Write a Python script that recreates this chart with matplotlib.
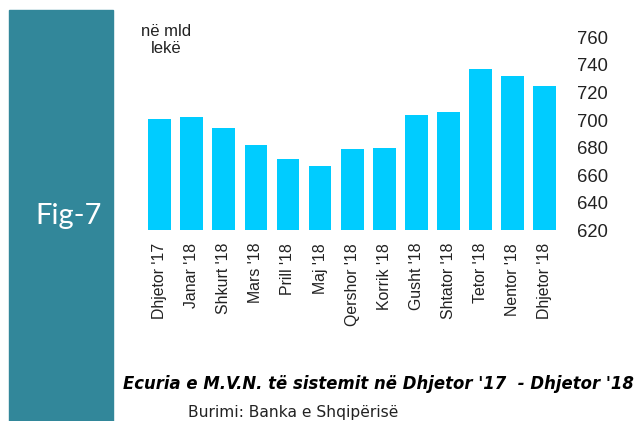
import matplotlib
matplotlib.use('Agg')
import matplotlib.pyplot as plt
from matplotlib.patches import Rectangle

# Data
months = ["Dhjetor '17", "Janar '18", "Shkurt '18", "Mars '18", "Prill '18", "Maj '18",
          "Qershor '18", "Korrik '18", "Gusht '18", "Shtator '18", "Tetor '18",
          "Nentor '18", "Dhjetor '18"]
values = [701, 702, 694, 682, 672, 667, 679, 680, 704, 706, 737, 732, 725]
y_ticks = [620, 640, 660, 680, 700, 720, 740, 760]

plt.rcParams['font.family'] = ['Liberation Sans', 'DejaVu Sans']

fig = plt.figure(figsize=(6.36, 4.21), dpi=100)

# teal side panel with figure label
panel = Rectangle((9 / 636, 0), 104 / 636, 1 - 10 / 421, transform=fig.transFigure,
                  color='#32879a', zorder=0)
fig.patches.append(panel)
fig.text(68.5 / 636, 1 - 216 / 421, 'Fig-7', color='white', fontsize=21,
         family=['Lato', 'DejaVu Sans'], ha='center', va='center')

ax = fig.add_axes([0.2258, 0.4525, 0.8816 - 0.2258, 0.9114 - 0.4525])
ax.bar(range(len(values)), values, width=0.71, color='#00ccff', bottom=0)
ax.set_ylim(620, 760)
ax.set_xlim(-0.5, len(values) - 0.5)
ax.set_yticks(y_ticks)
ax.yaxis.tick_right()
ax.tick_params(axis='y', length=0, pad=12, labelsize=13.3, labelcolor='#222222')
ax.set_xticks(range(len(months)))
ax.set_xticklabels(months, rotation=90, fontsize=11.4, color='#222222')
ax.tick_params(axis='x', length=0, pad=9)
for s in ax.spines.values():
    s.set_visible(False)

fig.text(166 / 636, 1 - 40 / 421, 'në mld\nlekë', ha='center', va='center',
         fontsize=12, linespacing=1.1, color='#222222')

# caption and source under the chart
fig.text(378 / 636, 1 - 389 / 421,
         "Ecuria e M.V.N. të sistemit në Dhjetor '17  - Dhjetor '18",
         ha='center', va='baseline', fontsize=11.9, fontweight='bold', style='italic',
         family=['DejaVu Sans'])
fig.text(188.5 / 636, 1 - 417.5 / 421, 'Burimi: Banka e Shqipërisë', ha='left',
         va='baseline', fontsize=11.2, color='#222222', family=['DejaVu Sans'])

fig.savefig('out.png', dpi=100)
